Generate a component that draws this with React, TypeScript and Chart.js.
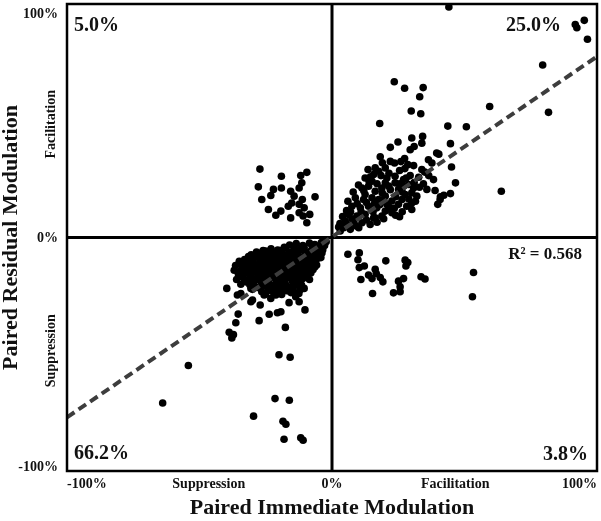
import React, { useEffect, useRef } from "react";
import { Chart, registerables } from "chart.js";

Chart.register(...registerables);

// Axis ticks and labels
const X_TICKS = [-100, -46.5, 0, 46.5, 100];
const X_TICK_LABELS = ["-100%", "Suppression", "0%", "Facilitation", "100%"];
const Y_TICKS = [100, 48.5, 0, -48.5, -100];
const Y_TICK_LABELS = ["100%", "Facilitation", "0%", "Suppression", "-100%"];
const X_TITLE = "Paired Immediate Modulation";
const Y_TITLE = "Paired Residual Modulation";

// Quadrant annotations: [upper-left, upper-right, lower-left, lower-right]
const QUADRANT_LABELS = ["5.0%", "25.0%", "66.2%", "3.8%"];
const R2_LABEL = "R\u00B2 = 0.568";

// Regression line
const FIT_X = [-100, 100];
const FIT_Y = [-77, 77.5];

// Upper-right quadrant (facilitation / facilitation)
const upperRight: number[][] = [
  [44.1, 98.7], [91.8, 91.2], [92.4, 89.8], [95.2, 93.0], [96.4, 84.9], [79.5, 73.9], [81.7, 53.6],
  [59.5, 56.1], [43.7, 47.7], [50.7, 47.4], [44.7, 40.2], [45.1, 30.2], [46.6, 23.4], [63.9, 19.8],
  [44.7, 18.8], [42.2, 18.1], [40.9, 17.4], [40.3, 35.7],
  [23.5, 66.7], [27.4, 63.9], [34.4, 64.2], [33.1, 60.3], [29.9, 54.2], [33.5, 53.0], [18.0, 48.8],
  [30.1, 42.6], [34.2, 43.3], [33.9, 40.4], [24.9, 40.9], [22.0, 38.6], [29.5, 37.6], [31.0, 39.0],
  [39.5, 36.2], [18.2, 34.6], [27.4, 33.8], [22.0, 32.6], [23.6, 31.9], [28.6, 31.2], [30.8, 30.8],
  [36.4, 33.3], [37.7, 31.9], [33.9, 29.1], [13.6, 29.1], [16.3, 29.8], [17.6, 28.4], [20.1, 29.8],
  [25.5, 28.7], [12.5, 25.5], [15.7, 27.0], [20.7, 25.5], [23.8, 26.2], [27.0, 24.8], [28.9, 22.7],
  [32.7, 25.8], [38.3, 24.8], [35.8, 20.6], [38.9, 20.1], [40.8, 16.3], [39.9, 14.2], [30.1, 14.8],
  [32.0, 17.7], [25.5, 8.9],
  [11.3, 21.2], [13.8, 22.0], [16.3, 19.8], [18.8, 21.2], [21.4, 22.0], [25.1, 20.6], [27.6, 18.4],
  [30.1, 19.1], [8.8, 17.0], [11.9, 16.3], [15.1, 17.0], [17.6, 16.3], [20.1, 17.7], [22.6, 15.6],
  [25.1, 14.2], [28.2, 13.4], [7.5, 13.4], [10.7, 12.7], [13.8, 13.4], [16.9, 12.7], [20.1, 11.3],
  [22.6, 10.6], [6.3, 9.9], [9.4, 9.2], [12.5, 9.9], [15.7, 8.4], [18.8, 9.2], [5.0, 7.0], [8.2, 6.3],
  [11.3, 6.3], [14.4, 5.6], [4.4, 4.2], [6.9, 3.5], [10.1, 4.2], [3.1, 2.8], [5.6, 5.6], [12.5, 18.4],
  [15.1, 24.1], [20.1, 23.4], [23.8, 23.4], [26.4, 16.3], [20.7, 14.2], [30.1, 12.0], [27.0, 22.0],
  [30.8, 21.2], [16.3, 8.4],
  [7, 11], [9.5, 14.5], [12, 20], [14, 24], [10, 22.5], [13, 15], [15.5, 11], [18, 14], [19, 19],
  [22, 20.5], [24, 17.5], [26.5, 19.5], [29, 16.5], [28, 25.5], [25.5, 23], [18.5, 26.5], [21.5, 27.5],
  [14.5, 26], [17, 23], [8, 19.5], [6, 15.5], [4, 9], [7.5, 8], [9, 5], [13, 7.5], [17, 6.5], [19.5, 8],
  [23.5, 12.5], [26.5, 11], [21.5, 13], [24, 9.5], [11, 11], [3, 6], [2.5, 4.5], [5.5, 11.5], [16, 14.5],
  [19.5, 16], [31.5, 15.5], [29.5, 26.5], [31, 23.5], [34.5, 23], [36.5, 26.5], [33, 21.5], [35, 28],
  [27.5, 29.5], [19, 32], [26, 32.5],
];

// Upper-left quadrant (suppression / facilitation)
const upperLeft: number[][] = [
  [-27.2, 29.3], [-19.1, 26.2], [-11.8, 26.5], [-9.5, 27.9], [-11.4, 23.4], [-27.8, 21.7], [-22.1, 20.6],
  [-19.1, 21.2], [-15.6, 19.8], [-12.4, 21.2], [-23.1, 18.0], [-26.5, 16.3], [-14.3, 17.7], [-11.2, 16.3],
  [-6.4, 17.4], [-16.5, 13.4], [-15.2, 14.8], [-12.4, 14.2], [-10.5, 12.7], [-24.0, 12.0], [-21.2, 9.5],
  [-19.3, 11.3], [-15.6, 8.4], [-12.4, 10.6], [-10.9, 9.2], [-8.4, 9.9], [-9.5, 6.3],
];

// Lower-right quadrant (facilitation / suppression)
const lowerRight: number[][] = [
  [6.0, -7.2], [10.3, -6.6], [9.8, -9.5], [10.3, -12.9], [12.2, -12.2], [20.3, -10.0], [27.6, -9.7],
  [28.6, -10.7], [27.9, -12.2], [16.3, -13.6], [13.8, -16.1], [10.9, -18.0], [15.1, -17.6], [16.7, -15.4],
  [18.2, -17.1], [19.2, -19.0], [25.1, -18.7], [27.0, -17.6], [33.6, -16.8], [35.1, -17.8], [15.3, -24.0],
  [23.2, -23.7], [25.7, -23.2], [25.7, -21.1], [53.4, -15.0], [53.0, -25.4],
];

// Lower-left quadrant (suppression / suppression)
const lowerLeft: number[][] = [
  [-54.2, -54.8], [-63.9, -70.9], [-20.0, -50.2], [-15.8, -51.3], [-21.5, -69.0], [-16.1, -69.7],
  [-29.6, -76.5], [-18.5, -78.7], [-17.4, -80.0], [-18.1, -86.4], [-11.8, -85.8], [-10.9, -86.8],
  [-38.8, -40.6], [-37.2, -41.6], [-37.8, -43.0],
  [-39.7, -21.8], [-35.4, -32.8], [-36.3, -36.5], [-27.5, -35.6], [-23.7, -32.9], [-20.6, -32.2],
  [-19.3, -31.8], [-17.6, -38.5], [-10.2, -31.0], [-27.1, -28.9], [-30.6, -27.5], [-34.4, -24.0],
  [-35.7, -24.6], [-36.4, -12.0], [-36.9, -14.0], [-35.0, -16.8], [-36.0, -18.0], [-32.5, -10.4],
  [-26.9, -9.0], [-30.0, -26.8], [-16.2, -27.9], [-13.7, -25.4], [-12.4, -27.5], [-15.0, -21.1],
  [-21.2, -24.6], [-23.1, -26.1], [-25.6, -24.6], [-32.5, -19.0], [-30.6, -21.8], [-33.1, -12.9],
  [-35.3, -15.7], [-34.4, -20.0],
  [-16, -3.2], [-13.5, -2.6], [-11, -3.4], [-8.5, -2.4], [-6.5, -3.0], [-4, -2.2], [-2.2, -1.8],
  [-26, -5.6], [-23, -4.8], [-20.5, -5.4], [-17.5, -4.6], [-14, -5.2], [-11.5, -4.4], [-8, -5.8],
  [-5.5, -4.6], [-3.5, -5.2],
  [-30.5, -7.4], [-27.5, -6.8], [-24, -7.6], [-21.5, -6.6], [-18.5, -7.2], [-16, -6.4], [-13, -7.8],
  [-10, -6.6], [-7.5, -7.4], [-4.5, -7.0],
  [-33, -9.4], [-29, -8.6], [-26.5, -9.6], [-23, -8.8], [-20, -9.2], [-17, -8.4], [-14.5, -9.8],
  [-11, -8.8], [-8.5, -9.4], [-5.5, -9.0],
  [-34.5, -11.2], [-31, -10.6], [-28, -11.6], [-25, -10.8], [-22.5, -11.4], [-19.5, -10.6], [-16, -11.8],
  [-13.5, -10.8], [-10.5, -11.4], [-7, -11.0],
  [-33.5, -13.4], [-30, -12.6], [-27, -13.6], [-24.5, -12.8], [-21, -13.2], [-18, -12.4], [-15.5, -13.8],
  [-12, -12.8], [-9, -13.4], [-6.5, -12.6],
  [-32, -15.2], [-29, -14.6], [-26, -15.6], [-23, -14.8], [-20.5, -15.4], [-17.5, -14.6], [-14, -15.8],
  [-11.5, -14.8], [-8, -15.2],
  [-31, -17.4], [-28, -16.6], [-25.5, -17.6], [-22, -16.8], [-19, -17.2], [-16.5, -16.4], [-13, -17.8],
  [-10, -16.6],
  [-29.5, -19.2], [-27, -18.6], [-24, -19.6], [-21, -18.8], [-18, -19.4], [-15, -18.6], [-12, -19.2],
  [-28.5, -21.4], [-25, -20.6], [-22.5, -21.6], [-19.5, -20.8], [-16.5, -21.2], [-13.5, -20.4],
  [-10.5, -21.8],
  [-26.5, -23.2], [-23.5, -22.6], [-20.5, -23.4], [-17, -22.8], [-14, -23.6],
  [-18, -4.2], [-14.5, -3.8], [-10.5, -4.4], [-7.5, -3.6], [-5, -4.2], [-2.8, -3.4],
  [-28.5, -6.2], [-25, -5.8], [-22, -6.4], [-19.5, -5.6], [-15, -6.2], [-12.5, -5.8], [-9, -6.4],
  [-6, -6.0], [-3.8, -6.6],
  [-31.5, -8.2], [-28, -7.8], [-25.5, -8.4], [-22, -7.6], [-19.5, -8.2], [-15, -7.8], [-12, -8.4],
  [-9.5, -7.6], [-6.5, -8.2], [-4.2, -8.6],
  [-35, -10.2], [-30, -9.8], [-27, -10.4], [-24, -9.6], [-21, -10.2], [-18, -9.8], [-15.5, -10.4],
  [-12.5, -9.6], [-9.5, -10.2], [-6.5, -9.8],
  [-32, -12.2], [-29.5, -11.8], [-26.5, -12.4], [-23.5, -11.6], [-20.5, -12.2], [-17.5, -11.8],
  [-14.5, -12.4], [-11.5, -11.6], [-8, -12.2], [-5.8, -11.8],
  [-34.5, -14.2], [-31.5, -13.8], [-28.5, -14.4], [-25.5, -13.6], [-22.5, -14.2], [-19.5, -13.8],
  [-17, -14.4], [-13, -13.6], [-10.5, -14.2], [-7.2, -13.8],
  [-33.5, -16.2], [-30.5, -15.8], [-27.5, -16.4], [-24.5, -15.6], [-21.5, -16.2], [-18.5, -15.8],
  [-15.5, -16.4], [-12.5, -15.6], [-9.5, -16.2],
  [-33, -18.2], [-29.5, -17.8], [-26.5, -18.4], [-23.5, -17.6], [-20.5, -18.2], [-17.5, -17.8],
  [-14.5, -18.4], [-11, -17.6], [-8.5, -18.0],
  [-31, -20.2], [-26.5, -19.8], [-23, -20.4], [-20.5, -19.6], [-17.5, -20.2], [-14.5, -19.8], [-11.5, -20.4],
  [-30, -22.2], [-27, -21.8], [-24, -22.4], [-21, -21.6], [-18.5, -22.2], [-15, -21.8], [-12, -22.4],
  [-25, -24.2], [-22, -23.8], [-19, -24.4], [-15.5, -23.6], [-12.5, -24.0],
];

const FONT = '"Liberation Serif", "Times New Roman", serif';

const overlayPlugin = {
  id: "overlay",
  beforeDatasetsDraw(chart: any) {
    const { ctx, chartArea: a, scales } = chart;
    const x0 = scales.x.getPixelForValue(0);
    const y0 = scales.y.getPixelForValue(0);
    ctx.save();
    ctx.strokeStyle = "#000";
    ctx.lineWidth = 3;
    ctx.beginPath();
    ctx.moveTo(x0, a.top);
    ctx.lineTo(x0, a.bottom);
    ctx.moveTo(a.left, y0);
    ctx.lineTo(a.right, y0);
    ctx.stroke();
    ctx.restore();
  },
  afterDraw(chart: any) {
    const { ctx, chartArea: a, scales } = chart;
    const xs = scales.x;
    const ys = scales.y;
    ctx.save();
    ctx.strokeStyle = "#000";
    ctx.lineWidth = 2.5;
    ctx.strokeRect(a.left, a.top, a.right - a.left, a.bottom - a.top);

    ctx.fillStyle = "#111";
    ctx.textBaseline = "alphabetic";

    // X tick labels
    ctx.font = `bold 14px ${FONT}`;
    X_TICKS.forEach((v, i) => {
      const px = xs.getPixelForValue(v);
      if (i === 0) ctx.textAlign = "left";
      else if (i === X_TICKS.length - 1) ctx.textAlign = "right";
      else ctx.textAlign = "center";
      ctx.fillText(X_TICK_LABELS[i], px, 488);
    });

    // Y tick labels
    Y_TICKS.forEach((v, i) => {
      const py = ys.getPixelForValue(v);
      const label = Y_TICK_LABELS[i];
      if (i === 1 || i === 3) {
        ctx.save();
        ctx.translate(a.left - 12, py);
        ctx.rotate(-Math.PI / 2);
        ctx.textAlign = "center";
        ctx.fillText(label, 0, 0);
        ctx.restore();
      } else {
        ctx.textAlign = "right";
        let base = py + 4.5;
        if (i === 0) base = py + 13.5;
        if (i === Y_TICKS.length - 1) base = py;
        ctx.fillText(label, a.left - 9, base);
      }
    });

    // Axis titles
    ctx.font = `bold 22px ${FONT}`;
    ctx.textAlign = "center";
    ctx.fillText(X_TITLE, (a.left + a.right) / 2, 514);
    ctx.save();
    ctx.translate(17, (a.top + a.bottom) / 2);
    ctx.rotate(-Math.PI / 2);
    ctx.fillText(Y_TITLE, 0, 0);
    ctx.restore();

    // Quadrant percentages
    ctx.font = `bold 20px ${FONT}`;
    ctx.textAlign = "left";
    ctx.fillText(QUADRANT_LABELS[0], a.left + 7, a.top + 26.5);
    ctx.fillText(QUADRANT_LABELS[2], a.left + 7, a.bottom - 12);
    ctx.textAlign = "right";
    ctx.fillText(QUADRANT_LABELS[1], a.right - 36, a.top + 26.5);
    ctx.fillText(QUADRANT_LABELS[3], a.right - 9, a.bottom - 11);

    ctx.font = `bold 17px ${FONT}`;
    ctx.fillText(R2_LABEL, a.right - 15, ys.getPixelForValue(0) + 21);
    ctx.restore();
  },
};

const toPoints = (arr: number[][]) => arr.map(([x, y]) => ({ x, y }));

export default function App() {
  const ref = useRef<HTMLCanvasElement | null>(null);

  useEffect(() => {
    if (!ref.current) return;
    const points = [...upperRight, ...upperLeft, ...lowerRight, ...lowerLeft];
    const chart = new Chart(ref.current, {
      type: "scatter",
      data: {
        datasets: [
          {
            label: "fit",
            data: FIT_X.map((x, i) => ({ x, y: FIT_Y[i] })),
            showLine: true,
            borderColor: "#3d3d3d",
            borderWidth: 4,
            borderDash: [9, 5],
            pointRadius: 0,
            fill: false,
            order: 0,
          } as any,
          {
            label: "cells",
            data: toPoints(points),
            backgroundColor: "#000",
            borderColor: "#000",
            borderWidth: 0,
            pointRadius: 3.8,
            order: 1,
          } as any,
        ],
      },
      options: {
        responsive: false,
        animation: false,
        layout: { padding: { left: 67, top: 2, right: 3, bottom: 50 } },
        scales: {
          x: { type: "linear", min: -100, max: 100, display: false },
          y: { type: "linear", min: -100, max: 100, display: false },
        },
        plugins: {
          legend: { display: false },
          tooltip: { enabled: false },
        },
      },
      plugins: [overlayPlugin],
    });
    return () => chart.destroy();
  }, []);

  return (
    <div style={{ position: "absolute", left: 0, top: 0, width: 601, height: 521, background: "#fff" }}>
      <canvas ref={ref} width={601} height={521} style={{ display: "block" }} />
    </div>
  );
}
